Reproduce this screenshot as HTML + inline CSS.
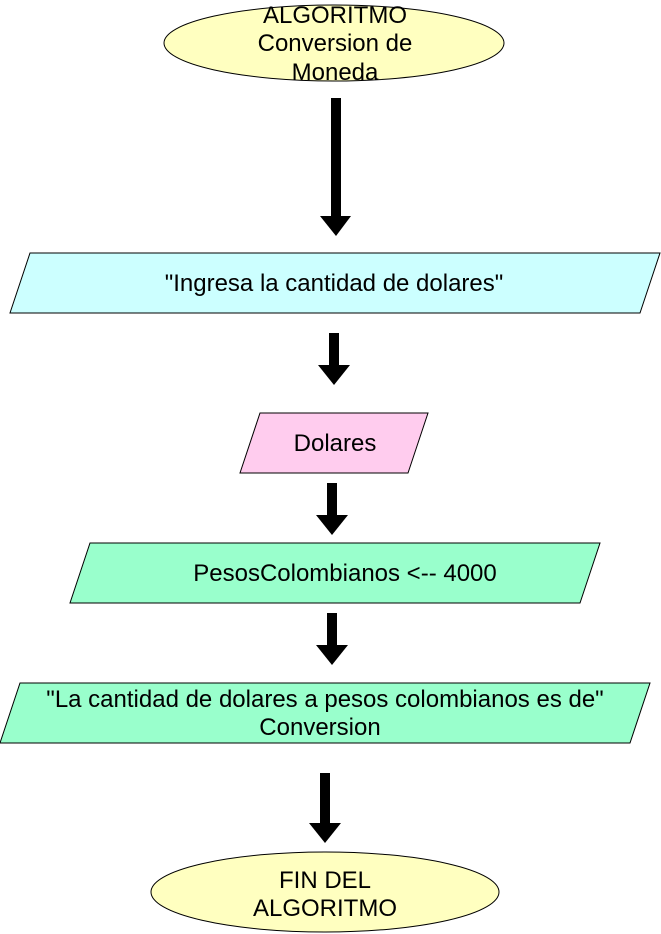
<!DOCTYPE html>
<html><head><style>body{margin:0;background:#fff}svg{display:block}text{font-family:"Liberation Sans",sans-serif;font-size:24px;fill:#000;text-anchor:middle}</style></head><body>
<svg width="661" height="934" viewBox="0 0 661 934">
<ellipse cx="334" cy="43" rx="170" ry="38" fill="#ffffc0" stroke="#000"/>
<text x="335" y="23">ALGORITMO</text><text x="335" y="51">Conversion de</text><text x="335" y="80">Moneda</text>
<g fill="#000">
<rect x="331" y="98" width="10" height="120"/><polygon points="320,216 351,216 336,236"/>
<rect x="329" y="333" width="10" height="34"/><polygon points="318,365 350,365 334,385"/>
<rect x="327" y="483" width="10" height="34"/><polygon points="316,515 348,515 332,535"/>
<rect x="327" y="613" width="10" height="34"/><polygon points="316,645 348,645 332,665"/>
<rect x="320" y="773" width="10" height="52"/><polygon points="309,823 341,823 325,843"/>
</g>
<polygon points="30,253 660,253 640,313 10,313" fill="#ccffff" stroke="#000"/>
<text x="334" y="291">"Ingresa la cantidad de dolares"</text>
<polygon points="260,413 428,413 408,473 240,473" fill="#ffccee" stroke="#000"/>
<text x="335" y="451">Dolares</text>
<polygon points="90,543 600,543 580,603 70,603" fill="#99ffcc" stroke="#000"/>
<text x="345" y="581">PesosColombianos &lt;-- 4000</text>
<polygon points="20,683 650,683 630,743 0,743" fill="#99ffcc" stroke="#000"/>
<text x="325" y="707">"La cantidad de dolares a pesos colombianos es de"</text>
<text x="320" y="735">Conversion</text>
<ellipse cx="325" cy="892" rx="174" ry="40" fill="#ffffc0" stroke="#000"/>
<text x="325" y="888">FIN DEL</text><text x="325" y="916">ALGORITMO</text>
</svg></body></html>
